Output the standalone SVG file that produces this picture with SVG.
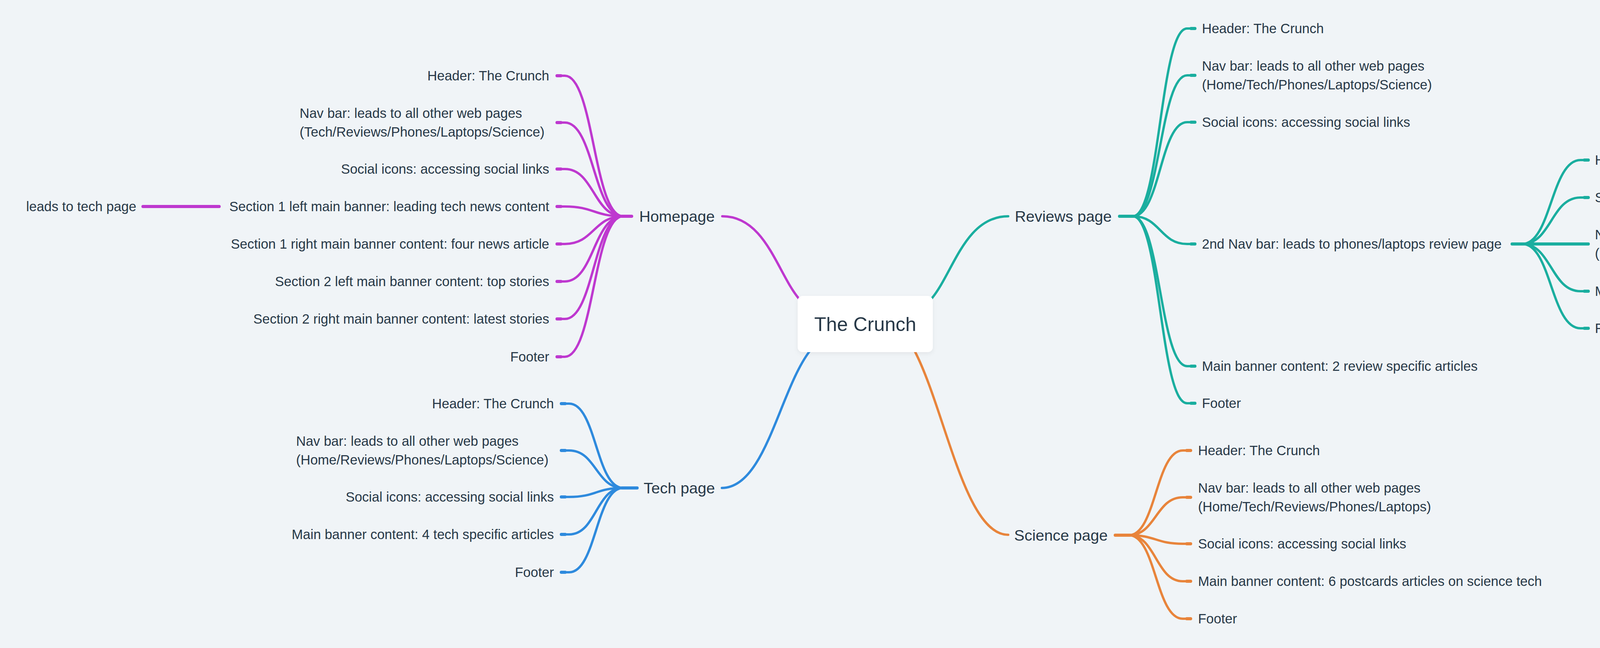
<svg xmlns="http://www.w3.org/2000/svg" width="5042" height="1660" viewBox="0 0 5042 1660">
<defs>
<style>
text{font-family:"Liberation Sans",Arial,sans-serif;fill:#273847;font-size:34.5px}
.m{font-size:39.5px;text-anchor:middle}
.c{font-size:50px;text-anchor:middle}
.r{text-anchor:end}
.e{fill:none;stroke-width:6;stroke-linecap:round;stroke-linejoin:round}
.s{fill:none;stroke-width:8;stroke-linecap:round}
.p{stroke:#BE38CF}.b{stroke:#2E8ADD}.g{stroke:#1AAE9F}.o{stroke:#E8843B}
</style>
<filter id="sh" x="-10%" y="-10%" width="120%" height="140%">
<feDropShadow dx="0" dy="4" stdDeviation="6" flood-color="#000" flood-opacity="0.06"/>
</filter>
</defs>
<rect width="5042" height="1660" fill="#F0F4F7"/>

<g id="connectors">
<!-- main -->
<path class="e p" d="M1849,554 C1960,554 1990,700 2046,766"/>
<path class="e g" d="M2581,554 C2470,554 2440,700 2384,766"/>
<path class="e b" d="M1848,1250 C1960,1250 1995,1000 2074,898"/>
<path class="e o" d="M2581,1370 C2470,1370 2420,1050 2341,898"/>
<!-- homepage -->
<path class="s p" d="M1617,554 H1592"/>
<path class="e p" d="M1595,554 C1520,554 1520,194 1446,194 H1426"/>
<path class="e p" d="M1595,554 C1520,554 1520,314 1446,314 H1426"/>
<path class="e p" d="M1595,554 C1520,554 1520,433 1446,433 H1426"/>
<path class="e p" d="M1595,554 C1520,554 1520,529 1446,529 H1426"/>
<path class="e p" d="M1595,554 C1520,554 1520,625 1446,625 H1426"/>
<path class="e p" d="M1595,554 C1520,554 1520,721 1446,721 H1426"/>
<path class="e p" d="M1595,554 C1520,554 1520,817 1446,817 H1426"/>
<path class="e p" d="M1595,554 C1520,554 1520,914 1446,914 H1426"/>
<path class="s p" d="M1426,194 H1436 M1426,314 H1436 M1426,433 H1436 M1426,529 H1436 M1426,625 H1436 M1426,721 H1436 M1426,817 H1436 M1426,914 H1436"/>
<path class="s p" d="M561,529 H366"/>
<!-- tech -->
<path class="s b" d="M1631,1250 H1592"/>
<path class="e b" d="M1595,1250 C1526,1250 1526,1034 1457,1034 H1437"/>
<path class="e b" d="M1595,1250 C1526,1250 1526,1154 1457,1154 H1437"/>
<path class="e b" d="M1595,1250 C1526,1250 1526,1273 1457,1273 H1437"/>
<path class="e b" d="M1595,1250 C1526,1250 1526,1369 1457,1369 H1437"/>
<path class="e b" d="M1595,1250 C1526,1250 1526,1466 1457,1466 H1437"/>
<path class="s b" d="M1437,1034 H1447 M1437,1154 H1447 M1437,1273 H1447 M1437,1369 H1447 M1437,1466 H1447"/>
<!-- reviews -->
<path class="s g" d="M2866,554 H2903"/>
<path class="e g" d="M2900,554 C2970,554 2970,73 3039,73 H3059"/>
<path class="e g" d="M2900,554 C2970,554 2970,193 3039,193 H3059"/>
<path class="e g" d="M2900,554 C2970,554 2970,313 3039,313 H3059"/>
<path class="e g" d="M2900,554 C2970,554 2970,625 3039,625 H3059"/>
<path class="e g" d="M2900,554 C2970,554 2970,938 3039,938 H3059"/>
<path class="e g" d="M2900,554 C2970,554 2970,1033 3039,1033 H3059"/>
<path class="s g" d="M3049,73 H3059 M3049,193 H3059 M3049,313 H3059 M3049,625 H3059 M3049,938 H3059 M3049,1033 H3059"/>
<!-- 2nd nav -->
<path class="s g" d="M3871,625 H3900"/>
<path class="e g" d="M3897,625 C3971,625 3971,410 4046,410 H4066"/>
<path class="e g" d="M3897,625 C3971,625 3971,506 4046,506 H4066"/>
<path class="s g" d="M3897,625 H4066"/>
<path class="e g" d="M3897,625 C3971,625 3971,746 4046,746 H4066"/>
<path class="e g" d="M3897,625 C3971,625 3971,841 4046,841 H4066"/>
<path class="s g" d="M4056,410 H4066 M4056,506 H4066 M4056,746 H4066 M4056,841 H4066"/>
<!-- science -->
<path class="s o" d="M2855,1371 H2893"/>
<path class="e o" d="M2890,1371 C2959,1371 2959,1154 3028,1154 H3048"/>
<path class="e o" d="M2890,1371 C2959,1371 2959,1274 3028,1274 H3048"/>
<path class="e o" d="M2890,1371 C2959,1371 2959,1393 3028,1393 H3048"/>
<path class="e o" d="M2890,1371 C2959,1371 2959,1489 3028,1489 H3048"/>
<path class="e o" d="M2890,1371 C2959,1371 2959,1585 3028,1585 H3048"/>
<path class="s o" d="M3038,1154 H3048 M3038,1274 H3048 M3038,1393 H3048 M3038,1489 H3048 M3038,1585 H3048"/>
</g>

<g id="root">
<rect x="2042" y="758" width="346" height="144" rx="13" fill="#FFFFFF" filter="url(#sh)"/>
<text class="c" x="2215" y="848">The Crunch</text>
</g>

<g id="homepage"><text class="m" x="1733" y="568">Homepage</text></g>
<g id="home-header"><text class="r" x="1406" y="206">Header: The Crunch</text></g>
<g id="home-nav"><text x="767" y="302">Nav bar: leads to all other web pages</text><text x="767" y="350">(Tech/Reviews/Phones/Laptops/Science)</text></g>
<g id="home-social"><text class="r" x="1406" y="445">Social icons: accessing social links</text></g>
<g id="home-s1l"><text class="r" x="1406" y="541">Section 1 left main banner: leading tech news content</text></g>
<g id="home-s1l-link"><text class="r" x="349" y="541">leads to tech page</text></g>
<g id="home-s1r"><text class="r" x="1406" y="637">Section 1 right main banner content: four news article</text></g>
<g id="home-s2l"><text class="r" x="1406" y="733">Section 2 left main banner content: top stories</text></g>
<g id="home-s2r"><text class="r" x="1406" y="829">Section 2 right main banner content: latest stories</text></g>
<g id="home-footer"><text class="r" x="1406" y="926">Footer</text></g>

<g id="tech"><text class="m" x="1739" y="1264">Tech page</text></g>
<g id="tech-header"><text class="r" x="1418" y="1046">Header: The Crunch</text></g>
<g id="tech-nav"><text x="758" y="1142">Nav bar: leads to all other web pages</text><text x="758" y="1190">(Home/Reviews/Phones/Laptops/Science)</text></g>
<g id="tech-social"><text class="r" x="1418" y="1285">Social icons: accessing social links</text></g>
<g id="tech-main"><text class="r" x="1418" y="1381">Main banner content: 4 tech specific articles</text></g>
<g id="tech-footer"><text class="r" x="1418" y="1478">Footer</text></g>

<g id="reviews"><text class="m" x="2722" y="568">Reviews page</text></g>
<g id="rev-header"><text x="3077" y="85">Header: The Crunch</text></g>
<g id="rev-nav"><text x="3077" y="181">Nav bar: leads to all other web pages</text><text x="3077" y="229">(Home/Tech/Phones/Laptops/Science)</text></g>
<g id="rev-social"><text x="3077" y="325">Social icons: accessing social links</text></g>
<g id="rev-nav2"><text x="3077" y="637">2nd Nav bar: leads to phones/laptops review page</text></g>
<g id="rev-main"><text x="3077" y="950">Main banner content: 2 review specific articles</text></g>
<g id="rev-footer"><text x="3077" y="1045">Footer</text></g>

<g id="nav2-header"><text x="4083" y="422">Header: The Crunch</text></g>
<g id="nav2-social"><text x="4083" y="518">Social icons: accessing social links</text></g>
<g id="nav2-nav"><text x="4083" y="613">Nav bar: leads to all other web pages</text><text x="4083" y="661">(Home/Tech/Reviews/Laptops/Science)</text></g>
<g id="nav2-main"><text x="4083" y="758">Main banner content: 4 articles on phone/laptops reviews</text></g>
<g id="nav2-footer"><text x="4083" y="853">Footer</text></g>

<g id="science"><text class="m" x="2716" y="1385">Science page</text></g>
<g id="sci-header"><text x="3067" y="1166">Header: The Crunch</text></g>
<g id="sci-nav"><text x="3067" y="1262">Nav bar: leads to all other web pages</text><text x="3067" y="1310">(Home/Tech/Reviews/Phones/Laptops)</text></g>
<g id="sci-social"><text x="3067" y="1405">Social icons: accessing social links</text></g>
<g id="sci-main"><text x="3067" y="1501">Main banner content: 6 postcards articles on science tech</text></g>
<g id="sci-footer"><text x="3067" y="1597">Footer</text></g>
</svg>
